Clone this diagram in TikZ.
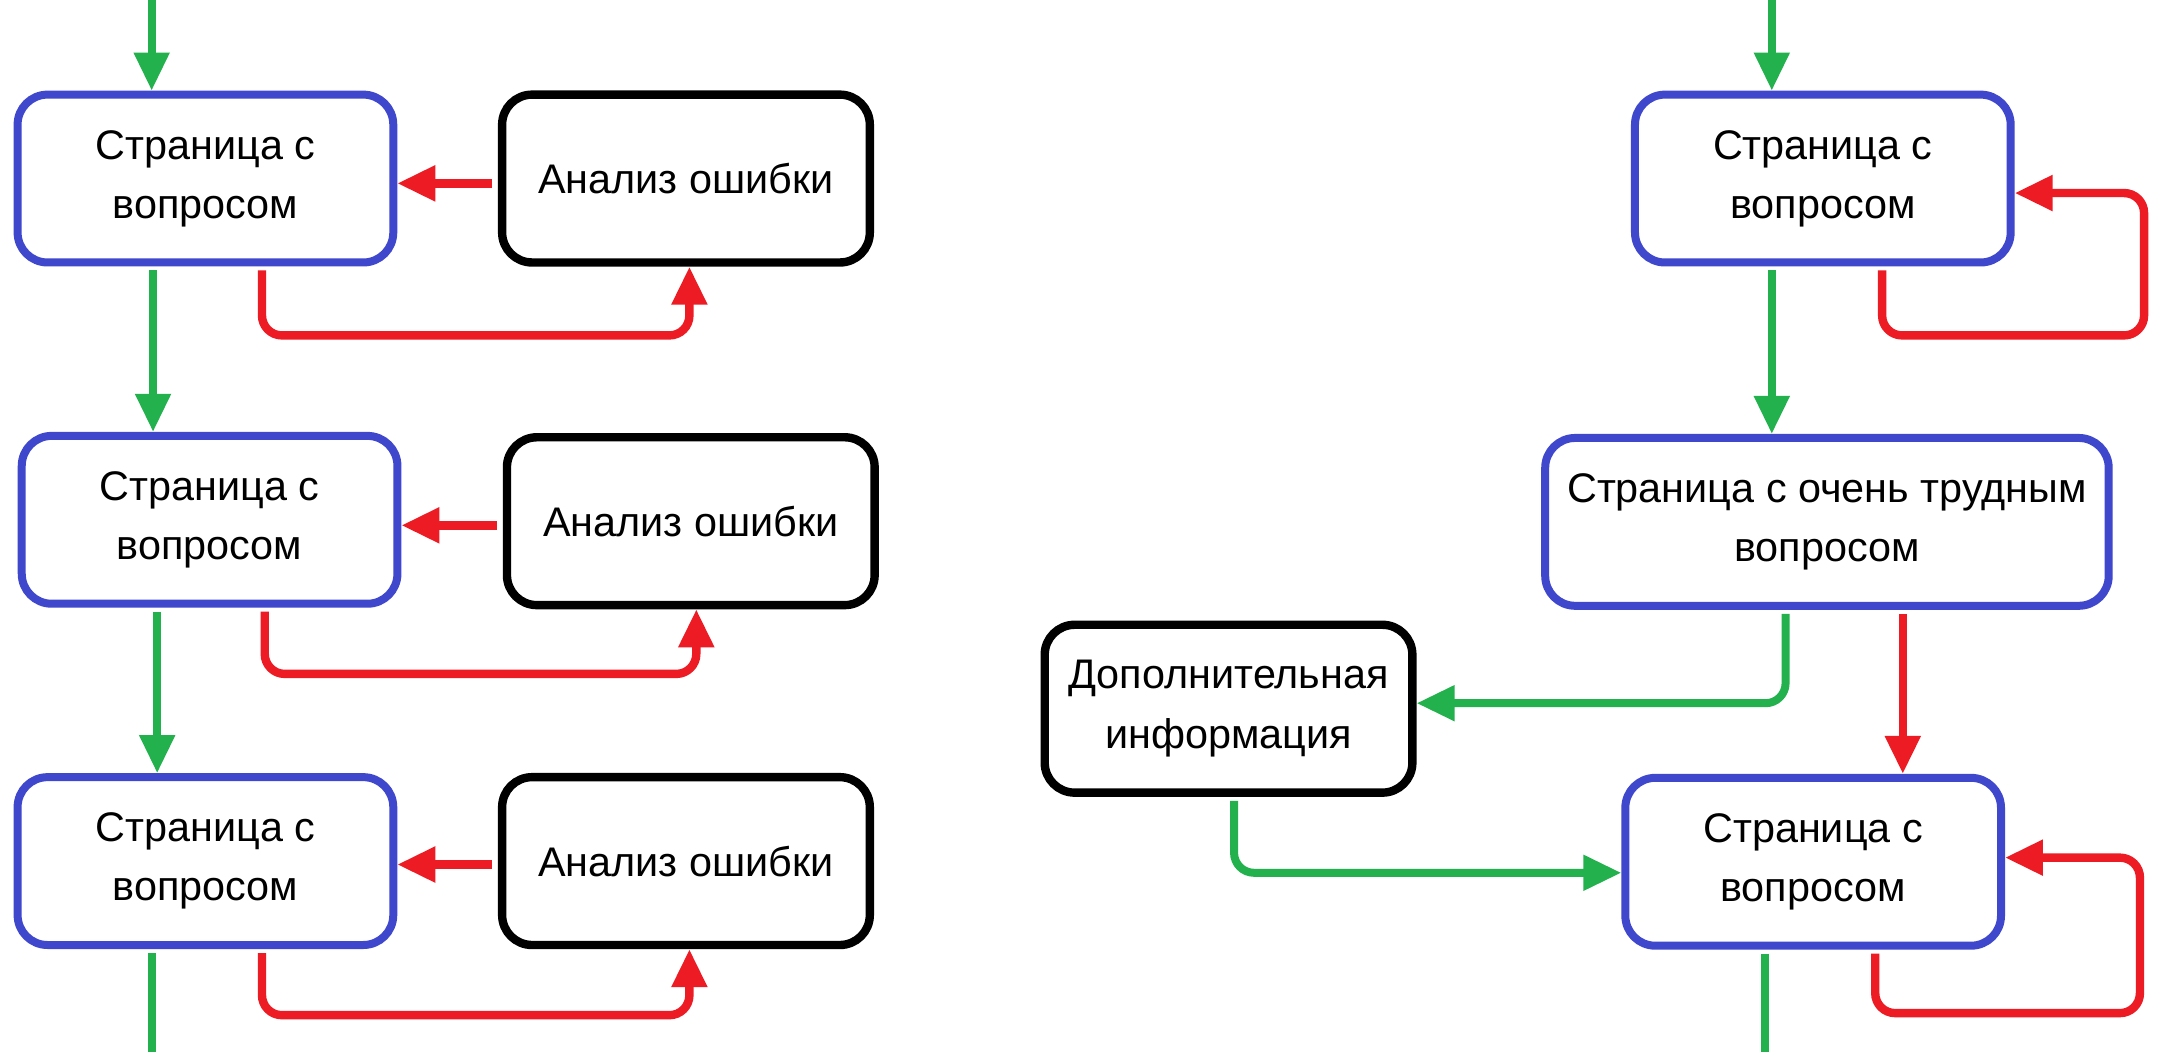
\documentclass[tikz,border=0pt]{standalone}
\usepackage{fontspec}
\setmainfont{Liberation Sans}
\usetikzlibrary{arrows.meta}
\definecolor{qblue}{RGB}{63,72,204}
\definecolor{ared}{RGB}{237,28,36}
\definecolor{agreen}{RGB}{34,177,76}
\tikzset{
  boxbase/.style={rectangle, rounded corners=15pt, fill=white, align=center, inner sep=2pt,
    font=\fontsize{20.7}{29.7}\selectfont, minimum height=84pt},
  qbox/.style={boxbase, draw=qblue, line width=4pt, minimum width=188pt},
  ebox/.style={boxbase, draw=black, line width=4.2pt, minimum width=184pt},
  garr/.style={draw=agreen, line width=4pt, line join=round, shorten <=2pt, -{Triangle[length=19pt,width=17pt]}},
  gline/.style={draw=agreen, line width=4pt, shorten <=2pt},
  rarr/.style={draw=ared, line width=4.2pt, line join=round, shorten <=2pt, -{Triangle[length=19pt,width=17pt]}},
}
\begin{document}
\begin{tikzpicture}[x=0.69pt,y=-0.69pt]
\useasboundingbox[fill=white] (0,0) rectangle (1568,763);
% left column
\node[qbox] (A1) at (149,129.5) {Страница с\\вопросом};
\node[ebox] (E1) at (497.5,129.5) {Анализ ошибки};
\node[qbox] (A2) at (152,377) {Страница с\\вопросом};
\node[ebox] (E2) at (501,378) {Анализ ошибки};
\node[qbox] (A3) at (149,624.5) {Страница с\\вопросом};
\node[ebox] (E3) at (497.5,624.5) {Анализ ошибки};
% right column
\node[qbox] (R1) at (1322,129.5) {Страница с\\вопросом};
\node[qbox, minimum width=282pt] (R2) at (1325,378.5) {Страница с очень трудным\\вопросом};
\node[ebox] (D) at (891,514) {Дополнительная\\информация};
\node[qbox] (R3) at (1315,625) {Страница с\\вопросом};
% alignment coordinates
\coordinate (inL) at (110,0);
\coordinate (outL) at (110,763);
\coordinate (g12) at (111,0);
\coordinate (g23) at (114,0);
\coordinate (r1) at (190,0);
\coordinate (t1) at (500,0);
\coordinate (r2) at (192,0);
\coordinate (t2) at (505,0);
\coordinate (r3) at (190,0);
\coordinate (t3) at (500,0);
\coordinate (ay1) at (0,133);
\coordinate (ay2) at (0,381);
\coordinate (ay3) at (0,627);
\coordinate (inR) at (1285,0);
\coordinate (outR) at (1280,763);
\coordinate (l1) at (1365,0);
\coordinate (lp1) at (1555,140);
\coordinate (gRD) at (1295,0);
\coordinate (gy1) at (0,510);
\coordinate (rR23) at (1380,0);
\coordinate (gDR) at (895,0);
\coordinate (gy2) at (0,633);
\coordinate (l3) at (1360,0);
\coordinate (lp3) at (1552,622);
% left connectors
\draw[garr, shorten <=0pt] (inL) -- (A1.north -| inL);
\draw[garr] (A1.south -| g12) -- (A2.north -| g12);
\draw[garr] (A2.south -| g23) -- (A3.north -| g23);
\draw[gline] (A3.south -| outL) -- (outL);
\draw[rarr, shorten <=3pt] (E1.west |- ay1) -- (A1.east |- ay1);
\draw[rarr, shorten <=3pt] (E2.west |- ay2) -- (A2.east |- ay2);
\draw[rarr, shorten <=3pt] (E3.west |- ay3) -- (A3.east |- ay3);
\draw[rarr, rounded corners=10pt] (A1.south -| r1) -- ++(0,50) -| (E1.south -| t1);
\draw[rarr, rounded corners=10pt] (A2.south -| r2) -- ++(0,48) -| (E2.south -| t2);
\draw[rarr, rounded corners=10pt] (A3.south -| r3) -- ++(0,48) -| (E3.south -| t3);
% right connectors
\draw[garr, shorten <=0pt] (inR) -- (R1.north -| inR);
\draw[rarr, rounded corners=10pt] (R1.south -| l1) -- ++(0,50) -| (lp1) -- (R1.east |- lp1);
\draw[garr] (R1.south -| inR) -- (R2.north -| inR);
\draw[garr, rounded corners=10pt] (R2.south -| gRD) |- (D.east |- gy1);
\draw[rarr] (R2.south -| rR23) -- (R3.north -| rR23);
\draw[garr, rounded corners=10pt] (D.south -| gDR) |- (R3.west |- gy2);
\draw[rarr, rounded corners=10pt] (R3.south -| l3) -- ++(0,46) -| (lp3) -- (R3.east |- lp3);
\draw[gline] (R3.south -| outR) -- (outR);
\end{tikzpicture}
\end{document}
